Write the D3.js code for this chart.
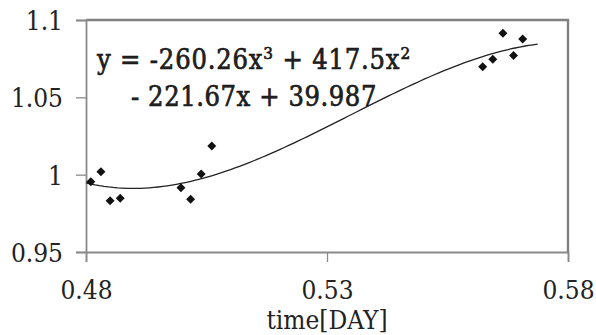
<!DOCTYPE html>
<html>
<head>
<meta charset="utf-8">
<script src="https://cdn.jsdelivr.net/npm/d3@7"></script>
<style>
  html, body { margin: 0; padding: 0; background: #fff; }
  svg { display: block; }
  .lbl { font-family: "DejaVu Serif Condensed", "DejaVu Serif", serif; fill: #222; }
</style>
</head>
<body>
<div id="chart"></div>
<script>
// measured points (time in days, relative value)
var timeDay = [0.4810, 0.4831, 0.4850, 0.4871, 0.4997, 0.5017, 0.5039, 0.5061,
               0.5623, 0.5644, 0.5665, 0.5687, 0.5706];
var ratio   = [0.9954, 1.0019, 0.9831, 0.9848, 0.9915, 0.9841, 1.0004, 1.0185,
               1.0698, 1.0746, 1.0914, 1.0770, 1.0877];
var xTicks = [0.48, 0.53, 0.58];
var yTicks = [0.95, 1, 1.05, 1.1];
// cubic trendline coefficients, as printed on the chart (x^3, x^2, x, 1)
var trendCoef = [-260.26, 417.5, -221.67, 39.987];
var trendRange = [0.48, 0.5737];

var W = 596, H = 335;
var margin = { top: 20, right: 28, bottom: 83, left: 86 };
var width = W - margin.left - margin.right;
var height = H - margin.top - margin.bottom;

var svg = d3.select('#chart').append('svg').attr('width', W).attr('height', H);
var g = svg.append('g').attr('transform', 'translate(' + margin.left + ',' + margin.top + ')');

var xScale = d3.scaleLinear().domain([0.48, 0.58]).range([0, width]);
var yScale = d3.scaleLinear().domain([0.95, 1.1]).range([height, 0]);

// plot frame (top and right)
g.append('path')
  .attr('d', 'M0,0H' + width + 'V' + height)
  .attr('fill', 'none').attr('stroke', '#808080').attr('stroke-width', 2.4);

var xAxis = g.append('g')
  .attr('transform', 'translate(0,' + height + ')')
  .call(d3.axisBottom(xScale).tickValues(xTicks).tickSize(10).tickPadding(19)
        .tickFormat(function (d) { return d3.format('.2f')(d); }));
var yAxis = g.append('g')
  .call(d3.axisLeft(yScale).tickValues(yTicks).tickSize(10).tickPadding(13)
        .tickFormat(function (d) { return String(d); }));

[xAxis, yAxis].forEach(function (a) {
  a.select('.domain').attr('stroke', '#8a8a8a').attr('stroke-width', 1.8);
  a.selectAll('.tick line').attr('stroke', '#8a8a8a').attr('stroke-width', 1.3);
  a.selectAll('.tick text').attr('class', 'lbl').attr('font-size', 26).attr('fill', '#333');
});
yAxis.selectAll('.tick text').attr('dy', '0.36em');

// trendline
function poly(x) {
  return trendCoef[0] * x * x * x + trendCoef[1] * x * x + trendCoef[2] * x + trendCoef[3];
}
var tx = d3.range(0, 101).map(function (i) { return trendRange[0] + (trendRange[1] - trendRange[0]) * i / 100; });
g.append('path')
  .datum(tx)
  .attr('fill', 'none')
  .attr('stroke', '#222')
  .attr('stroke-width', 1.3)
  .attr('d', d3.line().x(function (d) { return xScale(d); }).y(function (d) { return yScale(poly(d)); }));

// diamond markers
var pts = timeDay.map(function (t, i) { return { x: t, y: ratio[i] }; });
g.selectAll('.pt')
  .data(pts)
  .enter().append('path')
  .attr('class', 'pt')
  .attr('d', d3.symbol().type(d3.symbolSquare).size(40))
  .attr('fill', '#111')
  .attr('transform', function (d) { return 'translate(' + xScale(d.x) + ',' + yScale(d.y) + ') rotate(45)'; });

// stretch a text to a measured width by adjusting its letter spacing
function fitWidth(sel, target) {
  var n = sel.text().length;
  var w = sel.node().getBBox().width;
  sel.attr('letter-spacing', ((target - w) / n).toFixed(2));
}

// equation label
var eq = svg.append('text').attr('class', 'lbl').attr('font-size', 27)
  .attr('fill', '#111').attr('stroke', '#111').attr('stroke-width', 0.6)
  .attr('x', 97).attr('y', 69);
eq.append('tspan').text('y = -260.26x');
eq.append('tspan').attr('dy', -10).attr('font-size', 17).text('3');
eq.append('tspan').attr('dy', 10).text(' + 417.5x');
eq.append('tspan').attr('dy', -10).attr('font-size', 17).text('2');
fitWidth(eq, 315);
var eq2 = svg.append('text').attr('class', 'lbl').attr('font-size', 27)
  .attr('fill', '#111').attr('stroke', '#111').attr('stroke-width', 0.6)
  .attr('x', 131).attr('y', 106)
  .text('- 221.67x + 39.987');
fitWidth(eq2, 246);

// axis title
svg.append('text').attr('class', 'lbl').attr('font-size', 26)
  .attr('text-anchor', 'middle')
  .attr('x', margin.left + xScale(0.53)).attr('y', 329)
  .text('time[DAY]');
</script>
</body>
</html>
